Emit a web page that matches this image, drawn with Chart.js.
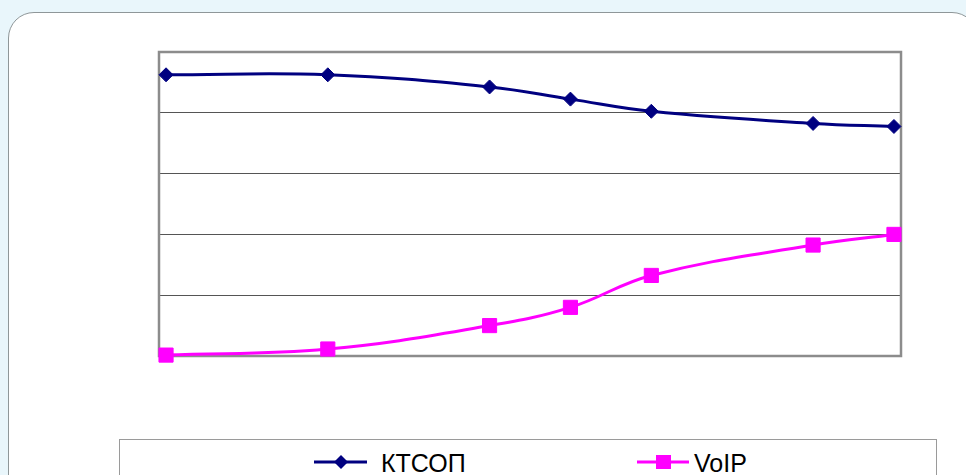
<!DOCTYPE html>
<html>
<head>
<meta charset="utf-8">
<script src="https://cdn.jsdelivr.net/npm/chart.js@4"></script>
<style>
  html, body { margin: 0; padding: 0; width: 966px; height: 475px; overflow: hidden; background: #E9F6FB; font-family: "Liberation Sans", Arial, sans-serif; }
  #card { position: absolute; left: 8px; top: 12px; width: 970px; height: 520px; background: #fff; border: 1.5px solid #8f9799; border-radius: 26px; box-sizing: border-box; }
  #wrap { position: absolute; left: 0; top: 0; width: 966px; height: 475px; }
  #legend { position: absolute; left: 119px; top: 439px; width: 818px; height: 60px; border: 1px solid #9a9a9a; box-sizing: border-box; background: #fff; }
  .item { position: absolute; top: 8px; height: 30px; display: flex; align-items: center; font-size: 25px; color: #000; }
  .item svg { display: block; }
</style>
</head>
<body>
<div id="card"></div>
<div id="legend">
  <div class="item" style="left:193px;"><svg width="56" height="30"><line x1="1" y1="14" x2="54" y2="14" stroke="#000080" stroke-width="3"/><polygon points="28,7 35,14 28,21 21,14" fill="#000080"/></svg><span style="margin-left:12px;">КТСОП</span></div>
  <div class="item" style="left:516px;"><svg width="56" height="30"><line x1="1" y1="14" x2="53" y2="14" stroke="#FF00FF" stroke-width="3"/><rect x="20" y="7" width="15" height="14" fill="#FF00FF"/></svg><span style="margin-left:2px;">VoIP</span></div>
</div>
<div id="wrap"><canvas id="c" width="966" height="475"></canvas></div>
<script>
const years = [2000, 2002, 2004, 2005, 2006, 2008, 2009];
const ktsop = [92.5, 92.5, 88.5, 84.5, 80.5, 76.5, 75.5];
const voip = [0.3, 2.3, 10, 16, 26.5, 36.5, 40];
const seriesNames = ['КТСОП', 'VoIP'];

const toPoints = (vals) => years.map((y, i) => ({ x: y, y: vals[i] }));

const framePlugin = {
  id: 'frame',
  beforeDatasetsDraw(chart) {
    const a = chart.chartArea, ctx = chart.ctx;
    ctx.save();
    ctx.strokeStyle = '#8c8c8c';
    ctx.lineWidth = 2.5;
    ctx.strokeRect(a.left, a.top, a.right - a.left, a.bottom - a.top);
    ctx.restore();
  }
};

new Chart(document.getElementById('c'), {
  type: 'line',
  data: {
    datasets: [
      { label: seriesNames[0], data: toPoints(ktsop), borderColor: '#000080', backgroundColor: '#000080', borderWidth: 3, pointStyle: 'rectRot', pointRadius: 7, pointBorderWidth: 1, tension: 0.4, clip: false },
      { label: seriesNames[1], data: toPoints(voip), borderColor: '#FF00FF', backgroundColor: '#FF00FF', borderWidth: 3, pointStyle: 'rect', pointRadius: 10, pointBorderWidth: 1, tension: 0.4, clip: false }
    ]
  },
  options: {
    responsive: false,
    animation: false,
    devicePixelRatio: 1,
    layout: { padding: { left: 159, top: 52, right: 65, bottom: 119 } },
    plugins: { legend: { display: false }, tooltip: { enabled: false } },
    scales: {
      x: { type: 'linear', display: false, min: 1999.913, max: 2009.087 },
      y: { min: 0, max: 100, ticks: { display: false, stepSize: 20 }, grid: { color: '#555', lineWidth: 1, drawTicks: false }, border: { display: false } }
    }
  },
  plugins: [framePlugin]
});
</script>
</body>
</html>
